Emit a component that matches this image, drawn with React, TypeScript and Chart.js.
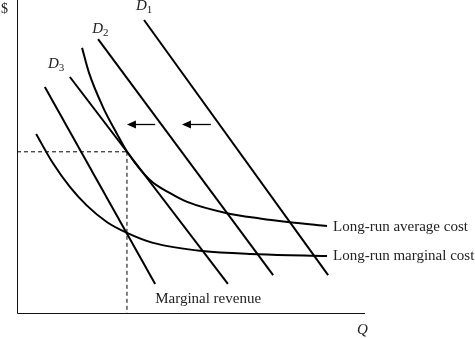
import React, { useEffect, useRef } from "react";
import { Chart, registerables } from "chart.js";

Chart.register(...registerables);

// Quantity (Q) and price ($) values, axes run 0..100
const d1Q = [36.5, 89.4];
const d1P = [93.6, 12.1];
const d2Q = [23.3, 73.6];
const d2P = [87.5, 12.1];
const d3Q = [15.2, 60.6];
const d3P = [75.4, 9.3];
const mrQ = [8.0, 39.7];
const mrP = [72.2, 9.3];
const lracQ = [18.7, 20.7, 24.7, 28.7, 31.6, 38.2, 44.0, 48.9, 60.3, 69.8, 78.4, 89.1];
const lracP = [84.7, 76.7, 65.8, 57.3, 51.6, 42.5, 38.3, 35.5, 31.9, 30.2, 29.0, 27.8];
const lrmcQ = [5.5, 10.3, 15.2, 20.1, 25.9, 31.6, 39.1, 53.2, 69.3, 89.1];
const lrmcP = [57.2, 47.9, 40.3, 34.3, 29.0, 25.6, 22.4, 19.8, 18.8, 18.2];
const eqQ = 31.6;
const eqP = 51.5;
const arrow1Q = [31.6, 39.7];
const arrow2Q = [47.4, 55.7];
const arrowP = 60.4;

// text annotations: [text, Q, $]
const curveLabels: [string, number, number][] = [
  ["Long-run average cost", 90.8, 26.2],
  ["Long-run marginal cost", 90.8, 16.9],
  ["Marginal revenue", 39.7, 3.2],
];
const demandLabels: [string, number, number][] = [
  ["1", 34.2, 96.8],
  ["2", 21.6, 89.5],
  ["3", 8.9, 78.3],
];

const zip = (qs: number[], ps: number[]) => qs.map((q, i) => ({ x: q, y: ps[i] }));

const SERIF = "'Liberation Serif', 'Times New Roman', serif";
const TEXT = "#222";

const overlay = {
  id: "overlay",
  afterDatasetsDraw(chart: any) {
    const { ctx, chartArea: a, scales } = chart;
    const xs = scales.x;
    const ys = scales.y;
    ctx.save();
    // axes
    ctx.strokeStyle = "#111";
    ctx.lineWidth = 1;
    ctx.setLineDash([]);
    ctx.beginPath();
    ctx.moveTo(a.left + 0.5, a.top);
    ctx.lineTo(a.left + 0.5, a.bottom + 0.5);
    ctx.lineTo(a.right, a.bottom + 0.5);
    ctx.stroke();

    // arrows
    [arrow1Q, arrow2Q].forEach((qs) => {
      const hx = xs.getPixelForValue(qs[0]);
      const tx = xs.getPixelForValue(qs[1]);
      const py = Math.round(ys.getPixelForValue(arrowP)) + 0.5;
      ctx.strokeStyle = "#000";
      ctx.lineWidth = 1.3;
      ctx.beginPath();
      ctx.moveTo(tx, py);
      ctx.lineTo(hx + 6, py);
      ctx.stroke();
      ctx.fillStyle = "#000";
      ctx.beginPath();
      ctx.moveTo(hx, py);
      ctx.lineTo(hx + 9, py - 4);
      ctx.lineTo(hx + 9, py + 4);
      ctx.closePath();
      ctx.fill();
    });

    // texts
    ctx.fillStyle = TEXT;
    ctx.textBaseline = "alphabetic";
    ctx.textAlign = "left";
    ctx.font = `15px ${SERIF}`;
    curveLabels.forEach(([t, q, p]) => {
      ctx.fillText(t, xs.getPixelForValue(q), ys.getPixelForValue(p));
    });
    demandLabels.forEach(([sub, q, p]) => {
      const px = xs.getPixelForValue(q);
      const py = ys.getPixelForValue(p);
      ctx.font = `italic 15px ${SERIF}`;
      ctx.fillText("D", px, py);
      const w = ctx.measureText("D").width;
      ctx.font = `11px ${SERIF}`;
      ctx.fillText(sub, px + w, py + 3);
    });
    ctx.font = `14px ${SERIF}`;
    ctx.fillText("$", xs.getPixelForValue(-4.6), ys.getPixelForValue(96.0));
    ctx.font = `italic 15px ${SERIF}`;
    ctx.fillText("Q", xs.getPixelForValue(97.7), ys.getPixelForValue(-6.7));
    ctx.restore();
  },
};

export default function App() {
  const ref = useRef<HTMLCanvasElement | null>(null);
  useEffect(() => {
    document.body.style.margin = "0";
    const solid = (data: any[], extra: any = {}) => ({
      data,
      borderColor: "#000",
      borderWidth: 2,
      pointRadius: 0,
      showLine: true,
      fill: false,
      ...extra,
    });
    const chart = new Chart(ref.current as HTMLCanvasElement, {
      type: "scatter",
      data: {
        datasets: [
          solid(zip(d1Q, d1P)),
          solid(zip(d2Q, d2P)),
          solid(zip(d3Q, d3P)),
          solid(zip(mrQ, mrP)),
          solid(zip(lracQ, lracP), { cubicInterpolationMode: "monotone" }),
          solid(zip(lrmcQ, lrmcP), { cubicInterpolationMode: "monotone" }),
          solid(
            [
              { x: 0, y: eqP },
              { x: eqQ, y: eqP },
            ],
            { borderWidth: 1, borderDash: [4, 3] }
          ),
          solid(
            [
              { x: eqQ, y: eqP },
              { x: eqQ, y: 0 },
            ],
            { borderWidth: 1, borderDash: [4, 3] }
          ),
        ],
      },
      options: {
        animation: false,
        responsive: false,
        layout: { padding: { left: 17, right: 110, top: 0, bottom: 25 } },
        plugins: { legend: { display: false }, tooltip: { enabled: false } },
        scales: {
          x: { type: "linear", min: 0, max: 100, display: false },
          y: { type: "linear", min: 0, max: 100, display: false },
        },
      },
      plugins: [overlay],
    });
    return () => chart.destroy();
  }, []);
  return (
    <div style={{ position: "absolute", left: 0, top: 0, width: 475, height: 338, background: "#fff" }}>
      <canvas ref={ref} width={475} height={338} />
    </div>
  );
}
